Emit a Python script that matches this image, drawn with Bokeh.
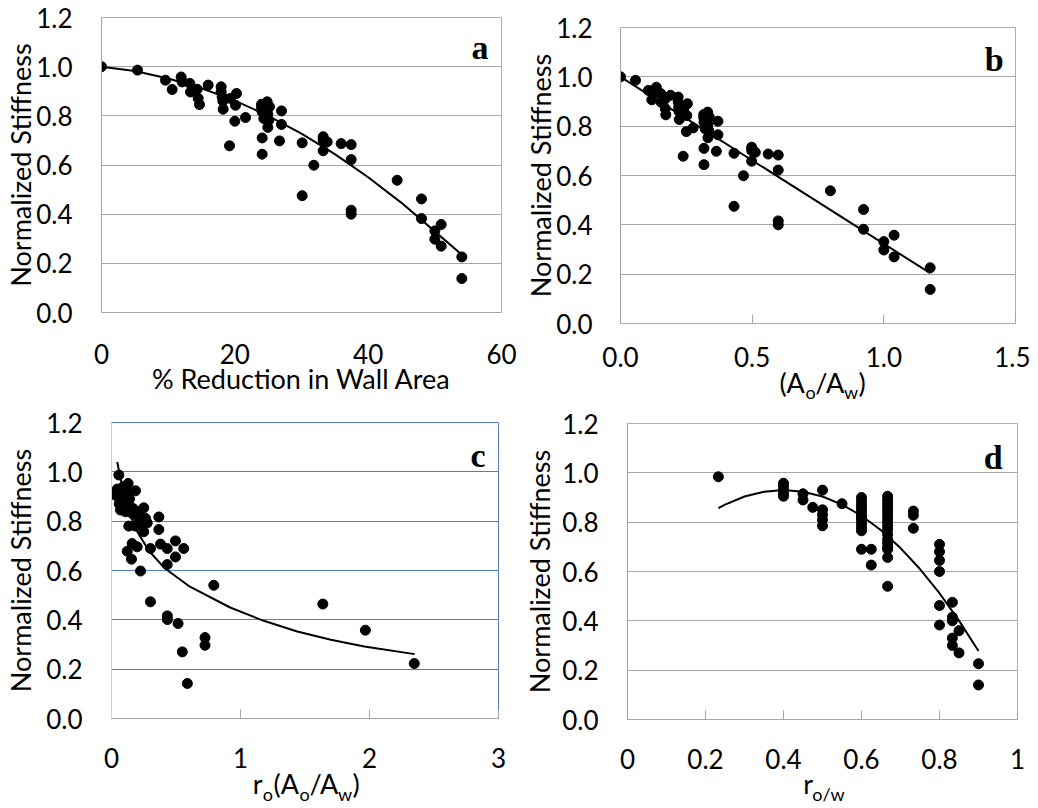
from bokeh.plotting import figure
from bokeh.layouts import column, row
from bokeh.models import Range1d, FixedTicker, Label, LinearAxis
from bokeh.embed import file_html
from bokeh.resources import INLINE

FONT = "Lato"

# ---------------- data ----------------
Y_TICKS = [0.0, 0.2, 0.4, 0.6, 0.8, 1.0, 1.2]
Y_TICK_LABELS = ["0.0", "0.2", "0.4", "0.6", "0.8", "1.0", "1.2"]
Y_TITLE = "Normalized Stiffness"

# panel a: % reduction in wall area
a_x = [0, 5.4, 9.6, 10.6, 11.95, 12.1, 13.25, 13.35, 14.35, 14.5, 14.7, 16.0, 17.95, 17.95,
       18.1, 18.2, 18.25, 19.35, 20.25, 20.1, 20.0, 19.2, 21.6, 24.0, 24.0, 24.1, 24.85, 25.2,
       24.95, 24.35, 25.1, 24.95, 24.1, 24.1, 27.0, 27.0, 26.7, 30.1, 30.1, 31.85, 33.25, 33.25,
       33.85, 33.25, 35.95, 37.45, 37.45, 37.45, 37.45, 44.35, 48.0, 48.0, 50.0, 50.0, 50.95,
       50.95, 54.05, 54.05]
a_y = [1.0, 0.986, 0.945, 0.907, 0.958, 0.938, 0.932, 0.897, 0.908, 0.871, 0.846, 0.925, 0.918,
       0.898, 0.877, 0.86, 0.827, 0.871, 0.891, 0.843, 0.778, 0.678, 0.793, 0.847, 0.835, 0.816,
       0.857, 0.837, 0.807, 0.789, 0.782, 0.753, 0.71, 0.644, 0.82, 0.765, 0.698, 0.69, 0.475,
       0.599, 0.715, 0.701, 0.694, 0.658, 0.687, 0.683, 0.622, 0.416, 0.4, 0.538, 0.462, 0.382,
       0.332, 0.298, 0.358, 0.27, 0.226, 0.138]
a_trend_x = [0, 5, 10, 15, 20, 25, 30, 35, 40, 45, 50, 54.05]
a_trend_y = [1.0, 0.982, 0.952, 0.912, 0.862, 0.80, 0.728, 0.644, 0.55, 0.446, 0.33, 0.235]
a_xticks = [0, 20, 40, 60]
a_xlabels = ["0", "20", "40", "60"]
a_title = "% Reduction in Wall Area"

# panel b: Ao/Aw
b_x = [0.0, 0.057, 0.106, 0.119, 0.136, 0.138, 0.153, 0.154, 0.168, 0.170, 0.172, 0.190, 0.219,
       0.219, 0.221, 0.222, 0.223, 0.240, 0.254, 0.252, 0.250, 0.238, 0.276, 0.316, 0.316, 0.317,
       0.331, 0.337, 0.332, 0.322, 0.335, 0.332, 0.317, 0.317, 0.370, 0.370, 0.364, 0.431, 0.431,
       0.467, 0.498, 0.498, 0.512, 0.498, 0.561, 0.599, 0.599, 0.599, 0.599, 0.797, 0.923, 0.923,
       1.0, 1.0, 1.039, 1.039, 1.176, 1.176]
b_y = [1.0, 0.986, 0.945, 0.907, 0.958, 0.938, 0.932, 0.897, 0.908, 0.871, 0.846, 0.925, 0.918,
       0.898, 0.877, 0.86, 0.827, 0.871, 0.891, 0.843, 0.778, 0.678, 0.793, 0.847, 0.835, 0.816,
       0.857, 0.837, 0.807, 0.789, 0.782, 0.753, 0.71, 0.644, 0.82, 0.765, 0.698, 0.69, 0.475,
       0.599, 0.715, 0.701, 0.694, 0.658, 0.687, 0.683, 0.622, 0.416, 0.4, 0.538, 0.462, 0.382,
       0.332, 0.298, 0.358, 0.27, 0.226, 0.138]
b_trend_x = [0.0, 1.176]
b_trend_y = [1.0, 0.204]
b_xticks = [0.0, 0.5, 1.0, 1.5]
b_xlabels = ["0.0", "0.5", "1.0", "1.5"]
# title pieces: (text, is_subscript)
b_title = [("(A", False), ("o", True), ("/A", False), ("w", True), (")", False)]

# panel c: ro(Ao/Aw)
c_x = [0.057, 0.052, 0.031, 0.070, 0.096, 0.129, 0.134, 0.186, 0.083, 0.070, 0.109, 0.147, 0.160,
       0.212, 0.250, 0.122, 0.264, 0.277, 0.367, 0.367, 0.134, 0.186, 0.250, 0.380, 0.496, 0.560,
       0.432, 0.302, 0.160, 0.199, 0.122, 0.155, 0.496, 0.432, 0.225, 0.793, 0.302, 0.433, 0.433,
       0.516, 0.549, 0.588, 0.725, 0.725, 1.638, 1.968, 2.347,
       0.090, 0.110, 0.060, 0.100, 0.120, 0.140, 0.080, 0.045, 0.170, 0.205, 0.228]
c_y = [0.987, 0.926, 0.905, 0.892, 0.912, 0.953, 0.912, 0.923, 0.865, 0.845, 0.838, 0.858, 0.831,
       0.838, 0.854, 0.878, 0.811, 0.793, 0.817, 0.766, 0.780, 0.780, 0.757, 0.707, 0.720, 0.689,
       0.689, 0.689, 0.709, 0.696, 0.678, 0.646, 0.655, 0.624, 0.598, 0.540, 0.473, 0.416, 0.401,
       0.385, 0.270, 0.142, 0.328, 0.297, 0.464, 0.358, 0.223,
       0.940, 0.930, 0.870, 0.860, 0.850, 0.890, 0.900, 0.930, 0.850, 0.815, 0.790]
c_trend_x = [0.044, 0.06, 0.1, 0.15, 0.2, 0.29, 0.41, 0.6, 0.92, 1.18, 1.44, 1.70, 1.96, 2.35]
c_trend_y = [1.04, 1.0, 0.899, 0.817, 0.757, 0.680, 0.610, 0.537, 0.450, 0.396, 0.353, 0.319,
             0.292, 0.261]
c_xticks = [0, 1, 2, 3]
c_xlabels = ["0", "1", "2", "3"]
c_title = [("r", False), ("o", True), ("(A", False), ("o", True), ("/A", False), ("w", True),
           (")", False)]

# panel d: ro/w
d_x = [0.233,
       0.4, 0.4, 0.4, 0.4, 0.4,
       0.45, 0.45,
       0.475,
       0.5, 0.5, 0.5, 0.5, 0.5,
       0.55,
       0.6, 0.6, 0.6, 0.6, 0.6, 0.6, 0.6, 0.6, 0.6, 0.6, 0.6, 0.6,
       0.625, 0.625,
       0.667, 0.667, 0.667, 0.667, 0.667, 0.667, 0.667, 0.667, 0.667, 0.667, 0.667, 0.667, 0.667,
       0.667, 0.667, 0.667, 0.667,
       0.733, 0.733, 0.733,
       0.8, 0.8, 0.8, 0.8, 0.8, 0.8,
       0.833, 0.833, 0.833, 0.833, 0.833,
       0.85, 0.85,
       0.9, 0.9]
d_y = [0.984,
       0.958, 0.945, 0.93, 0.915, 0.905,
       0.915, 0.89,
       0.86,
       0.93, 0.85, 0.83, 0.81, 0.785,
       0.875,
       0.90, 0.885, 0.87, 0.855, 0.845, 0.83, 0.82, 0.81, 0.795, 0.78, 0.765, 0.69,
       0.69, 0.626,
       0.905, 0.89, 0.875, 0.86, 0.845, 0.83, 0.815, 0.80, 0.785, 0.77, 0.75, 0.73, 0.715,
       0.70, 0.69, 0.657, 0.54,
       0.845, 0.828, 0.775,
       0.71, 0.68, 0.645, 0.60, 0.462, 0.383,
       0.475, 0.415, 0.40, 0.33, 0.30,
       0.36, 0.27,
       0.226, 0.14]
d_trend_x = [0.233, 0.25, 0.30, 0.35, 0.40, 0.45, 0.50, 0.55, 0.60, 0.65, 0.70, 0.75, 0.80, 0.85, 0.90]
d_trend_y = [0.857, 0.871, 0.904, 0.923, 0.930, 0.923, 0.904, 0.871, 0.826, 0.767, 0.695, 0.610,
             0.512, 0.401, 0.278]
d_xticks = [0, 0.2, 0.4, 0.6, 0.8, 1]
d_xlabels = ["0", "0.2", "0.4", "0.6", "0.8", "1"]
d_title = [("r", False), ("o/w", True)]

# ---------------- styling helpers ----------------
GRAY = "#A6A6A6"
LIGHT_BLUE = "#95B3D7"
BLUE = "#4F81BD"
TICK_SIZE = "26px"
TITLE_SIZE = 27
SUB_SIZE = 18

# approximate advance widths (em) of the title glyphs, used to lay out sub-scripted titles
ADV = {"(": 0.30, ")": 0.30, "A": 0.68, "/": 0.37, "o": 0.57, "r": 0.37, "w": 0.78}


def text_width(t, size):
    return sum(ADV.get(ch, 0.55) for ch in t) * size


def make_fig(width, height, left, right, top, bottom, xr, xticks, xlabels,
             grid_color, outline_color, yaxis_line_color, tick_in,
             x_standoff, y_standoff, y_title_standoff):
    p = figure(width=width, height=height, x_range=Range1d(*xr), y_range=Range1d(0, 1.2),
               output_backend="svg", toolbar_location=None,
               min_border_left=left, min_border_right=right,
               min_border_top=top, min_border_bottom=bottom)
    p.background_fill_color = "white"
    p.border_fill_color = "white"
    p.outline_line_color = outline_color
    p.outline_line_width = 1
    p.xgrid.visible = False
    p.ygrid.grid_line_color = grid_color
    p.ygrid.grid_line_width = 1

    p.yaxis.ticker = FixedTicker(ticks=Y_TICKS)
    p.yaxis.major_label_overrides = {t: l for t, l in zip(Y_TICKS, Y_TICK_LABELS)}
    p.yaxis.axis_label = Y_TITLE
    p.yaxis.axis_label_text_font = FONT
    p.yaxis.axis_label_text_font_size = f"{TITLE_SIZE}px"
    p.yaxis.axis_label_text_font_style = "normal"
    p.yaxis.axis_label_text_color = "black"
    p.yaxis.axis_label_standoff = y_title_standoff
    p.yaxis.major_label_text_font = FONT
    p.yaxis.major_label_text_font_size = TICK_SIZE
    p.yaxis.major_label_text_color = "black"
    p.yaxis.major_label_standoff = y_standoff
    p.yaxis.major_tick_in = 0
    p.yaxis.major_tick_out = 0
    p.yaxis.minor_tick_line_color = None
    p.yaxis.axis_line_color = yaxis_line_color

    p.xaxis.ticker = FixedTicker(ticks=xticks)
    p.xaxis.major_label_overrides = {t: l for t, l in zip(xticks, xlabels)}
    p.xaxis.major_label_text_font = FONT
    p.xaxis.major_label_text_font_size = TICK_SIZE
    p.xaxis.major_label_text_color = "black"
    p.xaxis.major_label_standoff = x_standoff
    p.xaxis.major_tick_in = tick_in
    p.xaxis.major_tick_out = 0
    p.xaxis.major_tick_line_color = GRAY if tick_in else None
    p.xaxis.minor_tick_line_color = None
    p.xaxis.axis_line_color = GRAY
    return p


def add_letter(p, x, y, letter):
    p.add_layout(Label(x=x, y=y, text=letter, text_font="Liberation Serif",
                       text_font_style="bold", text_font_size="34px", text_color="black",
                       text_align="right", text_baseline="alphabetic"))


def label_axis(ticks, labels, size, standoff):
    ax = LinearAxis(ticker=FixedTicker(ticks=ticks),
                    major_label_overrides={t: l for t, l in zip(ticks, labels)})
    ax.axis_line_color = None
    ax.major_tick_line_color = None
    ax.minor_tick_line_color = None
    ax.major_tick_in = 0
    ax.major_tick_out = 0
    ax.minor_tick_in = 0
    ax.minor_tick_out = 0
    ax.major_label_text_font = FONT
    ax.major_label_text_font_size = f"{size}px"
    ax.major_label_text_color = "black"
    ax.major_label_standoff = standoff
    return ax


def add_sub_title(p, pieces, cx_px, ppu, x0, main_standoff, sub_standoff):
    """Lay out a title with subscripts as two rows of axis labels below the x axis."""
    sizes = [SUB_SIZE if sub else TITLE_SIZE for _, sub in pieces]
    widths = [text_width(t, s) for (t, _), s in zip(pieces, sizes)]
    pos = cx_px - sum(widths) / 2.0
    main_t, main_l, sub_t, sub_l = [], [], [], []
    for (t, sub), w in zip(pieces, widths):
        centre = x0 + (pos + w / 2.0) / ppu
        if sub:
            sub_t.append(centre)
            sub_l.append(t)
        else:
            main_t.append(centre)
            main_l.append(t)
        pos += w
    p.add_layout(label_axis(main_t, main_l, TITLE_SIZE, main_standoff), "below")
    p.add_layout(label_axis(sub_t, sub_l, SUB_SIZE, sub_standoff), "below")


# ---------------- panel a ----------------
pa = make_fig(520, 406, 101, 19, 17, 94, (0, 60), a_xticks, a_xlabels,
              GRAY, LIGHT_BLUE, GRAY, 0, 31, 29, -4)
pa.xaxis.axis_label = a_title
pa.xaxis.axis_label_text_font = FONT
pa.xaxis.axis_label_text_font_size = f"{TITLE_SIZE}px"
pa.xaxis.axis_label_text_font_style = "normal"
pa.xaxis.axis_label_text_color = "black"
pa.xaxis.axis_label_standoff = -5
pa.line(a_trend_x, a_trend_y, line_color="black", line_width=2)
pa.scatter(a_x, a_y, size=10, fill_color="black", line_color="black")
add_letter(pa, 58.05, 1.079, "a")

# ---------------- panel b ----------------
pb = make_fig(510, 406, 100, 15, 27, 83, (0, 1.5), b_xticks, b_xlabels,
              GRAY, LIGHT_BLUE, GRAY, 9, 23, 28, -4)
pb.line(b_trend_x, b_trend_y, line_color="black", line_width=2)
pb.scatter(b_x, b_y, size=10, fill_color="black", line_color="black")
add_letter(pb, 1.455, 1.07, "b")
add_sub_title(pb, b_title, 202, 395 / 1.5, 0.0, -4, -21)

# ---------------- panel c ----------------
pc = make_fig(520, 402, 111, 22, 16, 90, (0, 3), c_xticks, c_xlabels,
              BLUE, BLUE, "#D0D0D0", 9, 29, 29, 6)
pc.line(c_trend_x, c_trend_y, line_color="black", line_width=2)
pc.scatter(c_x, c_y, size=10, fill_color="black", line_color="black")
add_letter(pc, 2.899, 1.066, "c")
add_sub_title(pc, c_title, 195, 387 / 3.0, 0.0, -4, -20)

# ---------------- panel d ----------------
pd_ = make_fig(510, 402, 103, 13, 17, 89, (0, 1), d_xticks, d_xlabels,
               GRAY, LIGHT_BLUE, GRAY, 9, 29, 29, 3)
pd_.line(d_trend_x, d_trend_y, line_color="black", line_width=2)
pd_.scatter(d_x, d_y, size=10, fill_color="black", line_color="black")
add_letter(pd_, 0.962, 1.062, "d")
add_sub_title(pd_, d_title, 198, 394.0, 0.0, -5, -20)

# each figure sits in its own column so that Bokeh does not align the frames in a row
layout = column(row(column(pa), column(pb)), row(column(pc), column(pd_)))
open("out.html", "w").write(file_html(layout, INLINE, title="Normalized Stiffness"))
